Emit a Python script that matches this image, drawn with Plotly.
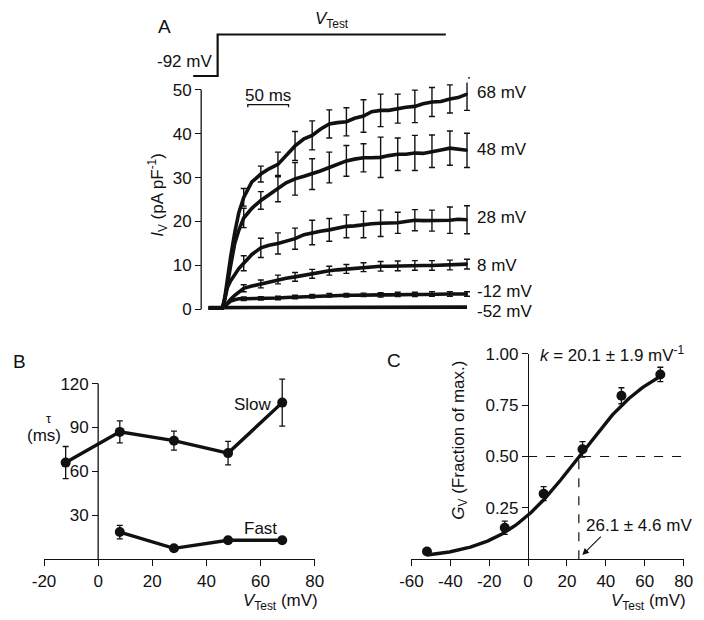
import numpy as np
import plotly.graph_objects as go

W, H = 704, 620
FONT = "Liberation Sans, Arial, sans-serif"
INK = "#111111"

# ---- panel A: mean current density traces (pA/pF) vs time (ms) ----
trace_t = [-17, -10, -3, 0, 3, 6, 10, 15, 20, 26, 36, 47, 57, 68, 78, 89, 100, 110, 120, 131,
           141, 152, 162, 173, 183, 194, 204, 215, 225, 236, 246, 257, 268, 279, 289, 300]
i_68 = [0.3, 0.3, 0.3, 0.3, 3.0, 7.0, 12.0, 17.5, 22.0, 25.5, 29.0, 30.8, 32.0, 33.0, 35.0, 37.2,
        38.8, 39.6, 41.0, 42.2, 42.5, 42.7, 43.5, 44.0, 45.0, 45.3, 45.3, 45.7, 46.0, 46.2, 46.8,
        47.2, 47.3, 47.9, 48.2, 49.0]
i_48 = [0.3, 0.3, 0.3, 0.3, 2.5, 6.0, 10.0, 15.0, 18.0, 20.8, 23.0, 24.8, 26.2, 27.5, 28.8, 29.7,
        30.3, 30.8, 31.5, 32.3, 33.0, 33.8, 34.2, 34.5, 34.5, 34.6, 35.0, 35.3, 35.3, 35.6, 35.5,
        36.0, 36.3, 36.7, 36.5, 36.2]
i_28 = [0.3, 0.3, 0.3, 0.3, 2.5, 5.0, 6.5, 8.0, 9.3, 10.5, 12.5, 14.0, 14.6, 15.0, 15.5, 16.1,
        17.0, 17.5, 17.8, 18.1, 18.5, 18.9, 19.0, 19.3, 19.5, 19.6, 19.6, 19.7, 20.0, 20.3, 20.2,
        20.2, 20.2, 20.3, 20.5, 20.4]
i_8 = [0.3, 0.3, 0.3, 0.3, 0.8, 1.5, 2.3, 3.2, 4.0, 4.8, 5.3, 5.8, 6.3, 6.8, 7.1, 7.4,
       7.8, 8.1, 8.5, 8.8, 9.0, 9.2, 9.4, 9.6, 9.7, 9.8, 9.8, 9.9, 10.0, 10.0, 10.0,
       10.0, 10.1, 10.1, 10.2, 10.3]
i_m12 = [0.3, 0.3, 0.3, 0.3, 0.8, 1.4, 1.9, 2.2, 2.4, 2.4, 2.4, 2.5, 2.6, 2.6, 2.7, 2.8,
         2.9, 3.0, 3.1, 3.2, 3.2, 3.2, 3.2, 3.3, 3.3, 3.3, 3.3, 3.4, 3.4, 3.4, 3.4,
         3.5, 3.5, 3.5, 3.5, 3.5]
i_m52 = [0.4, 0.4, 0.4, 0.4, 0.4, 0.4, 0.4, 0.4, 0.4, 0.4, 0.4, 0.4, 0.4, 0.4, 0.4, 0.4,
         0.4, 0.4, 0.4, 0.4, 0.4, 0.4, 0.4, 0.4, 0.4, 0.4, 0.4, 0.4, 0.4, 0.4, 0.4,
         0.4, 0.5, 0.5, 0.5, 0.5]
trace_labels = ["68 mV", "48 mV", "28 mV", "8 mV", "-12 mV", "-52 mV"]
label_px_y = [85, 143, 213, 262, 288, 308]

# SEM bars along the traces
err_t = [26, 47, 68, 89, 110, 131, 152, 173, 194, 215, 236, 257, 279, 300]
err_68 = [2.0, 1.8, 2.8, 3.3, 3.3, 3.2, 3.2, 3.7, 3.7, 3.3, 3.7, 3.3, 3.2, 3.7]
err_48 = [2.2, 2.0, 3.0, 3.7, 3.5, 3.5, 3.5, 3.2, 4.6, 3.7, 4.0, 3.7, 3.9, 3.9]
err_28 = [1.7, 2.2, 2.4, 2.4, 2.8, 2.6, 2.6, 3.0, 3.0, 2.4, 2.4, 2.4, 3.0, 3.2]
err_8 = [0.8, 0.9, 1.0, 1.0, 1.0, 1.0, 1.0, 1.0, 1.1, 1.1, 1.1, 1.1, 1.1, 1.1]
err_m12 = [0.4, 0.4, 0.4, 0.4, 0.4, 0.4, 0.4, 0.4, 0.5, 0.5, 0.5, 0.5, 0.5, 0.5]

# voltage protocol (schematic)
protocol_t = [-36, -6, -6, 274]
protocol_v = [-92, -92, 0, 0]

# scale bar
SCALE_T0, SCALE_LEN, SCALE_I = 31, 50, 46.6

# ---- panel B: activation time constants ----
slow_v = [-12, 8, 28, 48, 68]
slow_tau = [66, 87, 81, 72.5, 107]
slow_err = [11, 7.5, 6.5, 8, 16]
fast_v = [8, 28, 48, 68]
fast_tau = [18.5, 7.4, 12.9, 12.9]
fast_err = [4.6, 1.0, 1.0, 1.0]
b_xticks = [-20, 0, 20, 40, 60, 80]
b_yticks = [30, 60, 90, 120]

# ---- panel C: normalised conductance ----
gv_v = [-52, -12, 8, 28, 48, 68]
gv = [0.037, 0.153, 0.319, 0.535, 0.796, 0.90]
gv_err = [0.01, 0.032, 0.034, 0.038, 0.039, 0.035]
V_HALF, K_SLOPE = 26.1, 20.1
c_xticks = [-60, -40, -20, 0, 20, 40, 60, 80]
c_yticks = [0.25, 0.5, 0.75, 1.0]

a_yticks = [0, 10, 20, 30, 40, 50]


def xp(px):
    return px / W


def yp(py):
    return 1 - py / H


# pixel calibration of each panel
A_T0, A_PXMS = 217, 0.84
A_Y0, A_PXU = 306.3, 4.48
B_Y0, B_PXU = 561, 179 / 120
C_Y0, C_PXU = 561, 209.3

fig = go.Figure()

series = [(i_68, err_68), (i_48, err_48), (i_28, err_28), (i_8, err_8), (i_m12, err_m12), (i_m52, None)]
for vals, errs in series:
    fig.add_trace(go.Scatter(x=trace_t, y=vals, mode="lines", line=dict(color=INK, width=3.6),
                             xaxis="x", yaxis="y"))
    if errs is not None:
        ys = [vals[trace_t.index(t)] for t in err_t]
        fig.add_trace(go.Scatter(x=err_t, y=ys, mode="markers", marker=dict(size=2, color=INK),
                                 error_y=dict(type="data", array=errs, color=INK, thickness=1.4, width=3),
                                 xaxis="x", yaxis="y"))

# scale bar
fig.add_trace(go.Scatter(x=[SCALE_T0, SCALE_T0, SCALE_T0 + SCALE_LEN, SCALE_T0 + SCALE_LEN],
                         y=[SCALE_I - 0.6, SCALE_I, SCALE_I, SCALE_I - 0.6], mode="lines",
                         line=dict(color=INK, width=1.3), xaxis="x", yaxis="y"))

# protocol
fig.add_trace(go.Scatter(x=protocol_t, y=protocol_v, mode="lines", line=dict(color=INK, width=2.2),
                         xaxis="x2", yaxis="y2"))

# panel B
fig.add_trace(go.Scatter(x=slow_v, y=slow_tau, mode="lines+markers", cliponaxis=False,
                         line=dict(color=INK, width=3.4), marker=dict(size=10, color=INK),
                         error_y=dict(type="data", array=slow_err, color=INK, thickness=1.3, width=3),
                         xaxis="x3", yaxis="y3"))
fig.add_trace(go.Scatter(x=fast_v, y=fast_tau, mode="lines+markers", cliponaxis=False,
                         line=dict(color=INK, width=3.4), marker=dict(size=10, color=INK),
                         error_y=dict(type="data", array=fast_err, color=INK, thickness=1.3, width=3),
                         xaxis="x3", yaxis="y3"))

# panel C
fit_v = np.linspace(gv_v[0], gv_v[-1], 200)
fit_g = 1 / (1 + np.exp((V_HALF - fit_v) / K_SLOPE))
fig.add_trace(go.Scatter(x=[0, 80], y=[0.5, 0.5], mode="lines", line=dict(color=INK, width=1.2, dash="dash"),
                         xaxis="x4", yaxis="y4"))
fig.add_trace(go.Scatter(x=[V_HALF, V_HALF], y=[0, 0.5], mode="lines", line=dict(color=INK, width=1.2, dash="dash"),
                         xaxis="x4", yaxis="y4"))
fig.add_trace(go.Scatter(x=gv_v, y=gv, mode="markers", cliponaxis=False, marker=dict(size=10, color=INK),
                         error_y=dict(type="data", array=gv_err, color=INK, thickness=1.3, width=3),
                         xaxis="x4", yaxis="y4"))
fig.add_trace(go.Scatter(x=fit_v, y=fit_g, mode="lines", line=dict(color=INK, width=3.4), cliponaxis=False,
                         xaxis="x4", yaxis="y4"))

tick_font = dict(family=FONT, size=17, color=INK)
common = dict(showgrid=False, zeroline=False, tickfont=tick_font, ticks="outside", ticklen=6,
              tickwidth=1.3, tickcolor=INK, linecolor=INK, linewidth=1.3)

fig.update_layout(
    width=W, height=H, margin=dict(l=0, r=0, t=0, b=0),
    paper_bgcolor="white", plot_bgcolor="white", showlegend=False,
    font=dict(family=FONT, size=17, color=INK),
    xaxis=dict(domain=[xp(190), xp(480)], range=[(190 - A_T0) / A_PXMS, (480 - A_T0) / A_PXMS],
               visible=False, anchor="y"),
    yaxis=dict(domain=[yp(A_Y0 + 1.5 * A_PXU), yp(A_Y0 - 54 * A_PXU)], range=[-1.5, 54],
               anchor="free", position=xp(195), tickvals=a_yticks, ticktext=[str(v) for v in a_yticks],
               showline=False, **common),
    xaxis2=dict(domain=[xp(180), xp(470)], range=[(180 - A_T0) / A_PXMS, (470 - A_T0) / A_PXMS],
                visible=False, anchor="y2"),
    yaxis2=dict(domain=[yp(75), yp(20)], range=[-(75 - 26) / 42.3 * 92, (26 - 20) / 42.3 * 92],
                visible=False, anchor="x2"),
    xaxis3=dict(domain=[xp(33), xp(312)], range=[-20, 80], anchor="y3", showline=True,
                tickvals=b_xticks, ticktext=[str(v) for v in b_xticks], **common),
    yaxis3=dict(domain=[yp(B_Y0), yp(B_Y0 - 126 * B_PXU)], range=[0, 126], anchor="free",
                position=xp(33 + 20 * 2.79), tickvals=b_yticks, ticktext=[str(v) for v in b_yticks],
                showline=False, **common),
    xaxis4=dict(domain=[xp(411.7), xp(692.3)], range=[-60, 80], anchor="y4", showline=True,
                tickvals=c_xticks, ticktext=[str(v) for v in c_xticks], **common),
    yaxis4=dict(domain=[yp(C_Y0), yp(C_Y0 - C_PXU)], range=[0, 1.0], anchor="free",
                position=xp(411.7 + 60 * 2.004), tickvals=c_yticks,
                ticktext=[f"{v:.2f}" for v in c_yticks], showline=True, **common),
)

fig.add_shape(type="line", xref="paper", yref="y", x0=xp(195), x1=xp(195), y0=0, y1=50,
              line=dict(color=INK, width=1.3))
fig.add_shape(type="line", xref="x3", yref="y3", x0=0, x1=0, y0=0, y1=120,
              line=dict(color=INK, width=1.3))


def note(text, px, py, size=17, xanchor="center", angle=0):
    fig.add_annotation(text=text, x=xp(px), y=yp(py), xref="paper", yref="paper", showarrow=False,
                       xanchor=xanchor, yanchor="middle", textangle=angle,
                       font=dict(family=FONT, size=size, color=INK))


note("A", 157, 18, size=19)
note("B", 8, 359, size=19)
note("C", 394, 358, size=19)
note("<i>V</i><sub>Test</sub>", 330, 11)
note("-92 mV", 208, 54, xanchor="right")
note("50 ms", 264, 88)
for lab, py in zip(trace_labels, label_px_y):
    note(lab, 477, py, xanchor="left")
note("<i>I</i><sub>V</sub> (pA pF<sup>-1</sup>)", 150, 190, angle=-90)
note("τ", 38, 418, size=13)
note("(ms)", 33, 435)
note("Slow", 248, 403)
note("Fast", 256, 530)
note("<i>V</i><sub>Test</sub> (mV)", 277, 605)
note("<i>k</i> = 20.1 ± 1.9 mV<sup>-1</sup>", 542, 352, xanchor="left")
note("<i>G</i><sub>V</sub> (Fraction of max.)", 462, 440, angle=-90)
note("26.1 ± 4.6 mV", 646, 527)
note("<i>V</i><sub>Test</sub> (mV)", 656, 605)

fig.add_annotation(x=27.9, y=0.02, xref="x4", yref="y4", ax=20, ay=-20, text="", showarrow=True,
                   arrowhead=2, arrowsize=1.2, arrowwidth=1.1, arrowcolor=INK)

# page body has a default 8px margin; drop it so the figure sits at the window origin
fig.write_html("out.html", config={"displayModeBar": False},
               post_script="document.body.style.margin='0';")
